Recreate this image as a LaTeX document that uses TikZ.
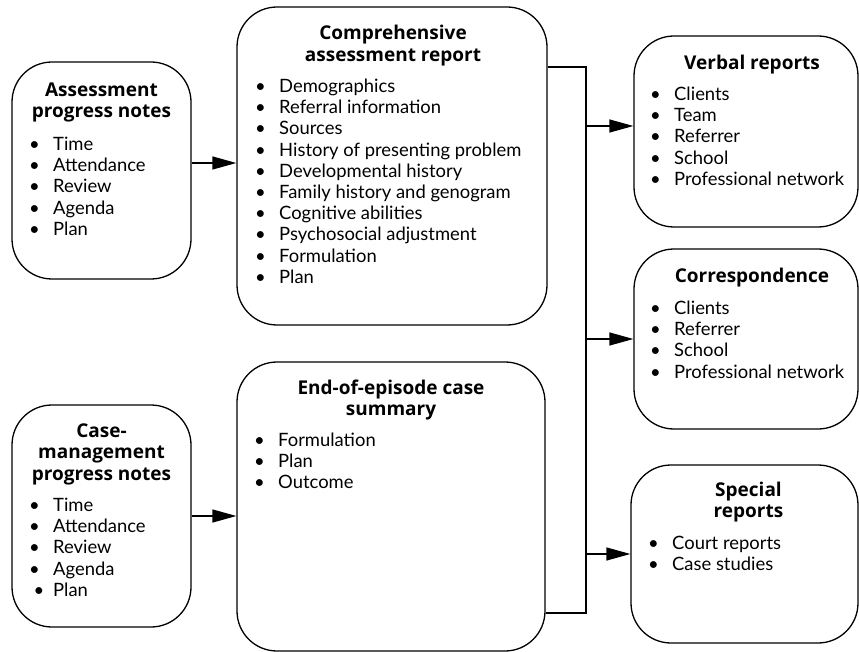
\documentclass[tikz,border=0pt]{standalone}
\usepackage{fontspec}
\setmainfont{Lato}
\newfontfamily\ttlfont{Open Sans}
\usetikzlibrary{arrows.meta}
\newcommand\bl{\makebox[24pt][l]{\textbullet}}
\newcommand\blr{\makebox[24pt][r]{\textbullet\hspace{9pt}}}
\newcommand\blist[1]{\begin{tabular}[t]{@{}l@{}}#1\end{tabular}}
\newcommand\tlist[1]{\begin{tabular}[t]{@{}c@{}}#1\end{tabular}}
\begin{document}
\begin{tikzpicture}[x=1pt,y=-1pt,
  box/.style={draw, line width=1.3pt, rounded corners=40pt, inner sep=0pt},
  ttl/.style={inner sep=0pt, anchor=base, font=\ttlfont\fontsize{19}{21.5}\selectfont\bfseries},
  lst/.style={inner sep=0pt, anchor=base west, font=\fontsize{18.4}{21.2}\selectfont},
  arr/.style={line width=1.3pt, -{Triangle[length=24pt,width=13pt]}},
  lin/.style={line width=1.3pt}]
\useasboundingbox (0,0) rectangle (859,652);

% boxes
\node[box, minimum width=179pt, minimum height=217pt] (b1) at (101.5,170.5) {};
\node[box, minimum width=310pt, minimum height=318pt] (b2) at (392,166) {};
\node[box, minimum width=179pt, minimum height=222pt] (b3) at (101.5,516) {};
\node[box, minimum width=308pt, minimum height=289pt] (b4) at (391,506.5) {};
\node[box, minimum width=224pt, minimum height=191pt] (vb) at (746,131.5) {};
\node[box, minimum width=224pt, minimum height=180pt] (cb) at (746,339) {};
\node[box, minimum width=227pt, minimum height=178pt] (sb) at (744.5,554) {};

% titles
\node[ttl] (t1) at (101.5,96.5) {\tlist{Assessment\\progress notes}};
\node[ttl] (t2) at (393,40) {\tlist{Comprehensive\\assessment report}};
\node[ttl] (t3) at (101.5,437) {\tlist{Case-\\management\\progress notes}};
\node[ttl] (t4) at (391,394) {\tlist{End-of-episode case\\summary}};
\node[ttl] (tv) at (752,69.5) {\tlist{Verbal reports}};
\node[ttl] (tc) at (752,282.5) {\tlist{Correspondence}};
\node[ttl] (ts) at (748.5,496) {\tlist{Special\\reports}};

% lists
\node[lst] (l1) at (29,150.5) {\blist{\bl Time\\ \bl Attendance\\ \bl Review\\ \bl Agenda\\ \bl Plan}};
\node[lst] (l2) at (255,92.5) {\blist{\bl Demographics\\ \bl Referral information\\ \bl Sources\\ \bl History of presenting problem\\ \bl Developmental history\\ \bl Family history and genogram\\ \bl Cognitive abilities\\ \bl Psychosocial adjustment\\ \bl Formulation\\ \bl Plan}};
\node[lst] (l3) at (29,511.5) {\blist{\bl Time\\ \bl Attendance\\ \bl Review\\ \bl Agenda\\ \blr Plan}};
\node[lst] (l4) at (254,446.5) {\blist{\bl Formulation\\ \bl Plan\\ \bl Outcome}};
\node[lst] (lv) at (650,100.5) {\blist{\bl Clients\\ \bl Team\\ \bl Referrer\\ \bl School\\ \bl Professional network}};
\node[lst] (lc) at (650,314.5) {\blist{\bl Clients\\ \bl Referrer\\ \bl School\\ \bl Professional network}};
\node[lst] (ls) at (648,549.5) {\blist{\bl Court reports\\ \bl Case studies}};

% connectors
\coordinate (a1) at (191,163);
\draw[arr] (b1.east |- a1) -- (a1 -| b2.west);
\draw[arr] (b3.east) -- (b3.east -| b4.west);
\coordinate (j1) at (586,67);
\coordinate (j2) at (586,613);
\draw[lin] (b2.east |- j1) -- (j1) -- (j2) -- (b4.east |- j2);
\coordinate (av) at (586,126);
\coordinate (ac) at (586,339);
\coordinate (as) at (586,554);
\draw[arr] (av) -- (av -| vb.west);
\draw[arr] (ac) -- (ac -| cb.west);
\draw[arr] (as) -- (as -| sb.west);
\end{tikzpicture}
\end{document}
